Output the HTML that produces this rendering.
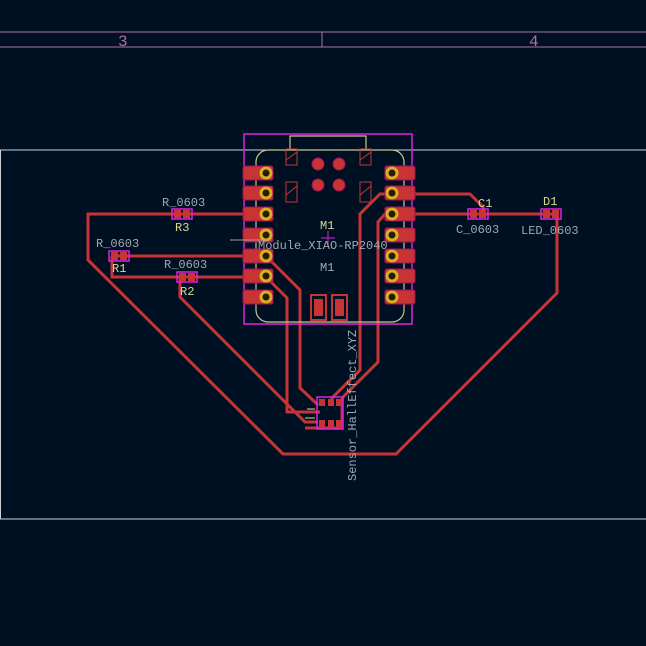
<!DOCTYPE html>
<html><head><meta charset="utf-8"><style>
html,body{margin:0;padding:0;background:#001023;}
svg{display:block;font-family:"Liberation Mono","DejaVu Sans Mono",monospace;}
</style></head><body>
<svg width="646" height="646" viewBox="0 0 646 646" xmlns="http://www.w3.org/2000/svg">
<defs>
<pattern id="g" x="0" y="1" width="52.2" height="52" patternUnits="userSpaceOnUse">
<rect x="0" y="52" width="2" height="1" fill="#5a6470"/>
</pattern>
<g id="pad"><rect x="-23" y="-7" width="30" height="14" rx="2" fill="#c83434" stroke="#a01060" stroke-width="1"/><circle cx="0" cy="0" r="6.5" fill="#d8b020"/><circle cx="0" cy="0" r="3.5" fill="#2a1a08"/></g>
<g id="padr"><rect x="-7" y="-7" width="30" height="14" rx="2" fill="#c83434" stroke="#a01060" stroke-width="1"/><circle cx="0" cy="0" r="6.5" fill="#d8b020"/><circle cx="0" cy="0" r="3.5" fill="#2a1a08"/></g>
<g id="smd"><rect x="-10" y="-5" width="20" height="10" fill="none" stroke="#e020e0" stroke-width="1.5"/><rect x="-8" y="-4" width="7" height="8" fill="#c83434"/><rect x="1" y="-4" width="7" height="8" fill="#c83434"/></g>
</defs>
<rect width="646" height="646" fill="#001023"/>
<rect width="646" height="646" fill="url(#g)"/>
<line x1="0" y1="32" x2="646" y2="32" stroke="#b070a0" stroke-width="1"/>
<line x1="0" y1="47" x2="646" y2="47" stroke="#b070a0" stroke-width="1"/>
<line x1="322" y1="32" x2="322" y2="47" stroke="#b070a0" stroke-width="1"/>
<text x="118" y="46" fill="#b070a0" font-size="16">3</text>
<text x="529" y="46" fill="#b070a0" font-size="16">4</text>
<rect x="0.5" y="150" width="650" height="369" fill="none" stroke="#d0d0d0" stroke-width="1"/>
<g fill="none" stroke="#c83434" stroke-width="3" stroke-linejoin="miter">
<polyline points="245,214 88,214 88,260 283,454 396,454 557,293 557,214"/>
<polyline points="245,256 118,256"/>
<polyline points="245,277 112,277 112,256"/>
<polyline points="180,277 180,297 305,422 318,422"/>
<polyline points="266,256 300,290 300,388 318,405"/>
<polyline points="266,277 287,298 287,412 320,412"/>
<polyline points="396,194 380,194 360,214 360,370 332,398 332,405"/>
<polyline points="396,214 385,214 378,222 378,362 342,398"/>
<polyline points="396,194 470,194 483,207 483,214"/>
<polyline points="396,214 557,214"/>
<polyline points="342,398 342,428 305,428"/>
</g>
<rect x="244" y="134" width="168" height="190" fill="none" stroke="#e020e0" stroke-width="1.5"/>
<path d="M290 150 V136 H366 V150" fill="none" stroke="#c8c890" stroke-width="1.2"/>
<rect x="256" y="150" width="148" height="172" rx="12" fill="none" stroke="#c8c890" stroke-width="1.2"/>
<rect x="286" y="149" width="11" height="16" fill="none" stroke="#c83434"/>
<rect x="360" y="149" width="11" height="16" fill="none" stroke="#c83434"/>
<rect x="286" y="182" width="11" height="20" fill="none" stroke="#c83434"/>
<rect x="360" y="182" width="11" height="20" fill="none" stroke="#c83434"/>
<g stroke="#c83434" stroke-width="1"><line x1="286" y1="160" x2="297" y2="152"/><line x1="360" y1="160" x2="371" y2="152"/><line x1="286" y1="195" x2="297" y2="186"/><line x1="360" y1="195" x2="371" y2="186"/></g>
<g fill="#c83434" stroke="#a01060"><circle cx="318" cy="164" r="6"/><circle cx="339" cy="164" r="6"/><circle cx="318" cy="185" r="6"/><circle cx="339" cy="185" r="6"/></g>
<rect x="311" y="295" width="15" height="25" fill="none" stroke="#c83434" stroke-width="2"/>
<rect x="332" y="295" width="15" height="25" fill="none" stroke="#c83434" stroke-width="2"/>
<rect x="314" y="299" width="9" height="17" fill="#c83434"/>
<rect x="335" y="299" width="9" height="17" fill="#c83434"/>
<g>
<use href="#pad" x="266" y="173"/><use href="#pad" x="266" y="193"/><use href="#pad" x="266" y="214"/><use href="#pad" x="266" y="235"/><use href="#pad" x="266" y="256"/><use href="#pad" x="266" y="276"/><use href="#pad" x="266" y="297"/>
<use href="#padr" x="392" y="173"/><use href="#padr" x="392" y="193"/><use href="#padr" x="392" y="214"/><use href="#padr" x="392" y="235"/><use href="#padr" x="392" y="256"/><use href="#padr" x="392" y="276"/><use href="#padr" x="392" y="297"/>
</g>
<line x1="230" y1="240" x2="270" y2="240" stroke="#a0a0a0" stroke-width="1"/>
<line x1="328" y1="231" x2="328" y2="245" stroke="#e020e0" stroke-width="1"/>
<line x1="321" y1="238" x2="335" y2="238" stroke="#e020e0" stroke-width="1"/>
<text x="320" y="229" fill="#d8d890" font-size="12">M1</text>
<text x="320" y="271" fill="#a0a8b0" font-size="12">M1</text>
<text x="258" y="249" fill="#a0a8b0" font-size="12">Module_XIAO-RP2040</text>
<use href="#smd" x="182" y="214"/>
<use href="#smd" x="119" y="256"/>
<use href="#smd" x="187" y="277"/>
<use href="#smd" x="478" y="214"/>
<use href="#smd" x="551" y="214"/>
<g font-size="12">
<text x="162" y="206" fill="#a0a8b0">R_0603</text><text x="175" y="231" fill="#d8d890">R3</text>
<text x="96" y="247" fill="#a0a8b0">R_0603</text><text x="112" y="272" fill="#d8d890">R1</text>
<text x="164" y="268" fill="#a0a8b0">R_0603</text><text x="180" y="295" fill="#d8d890">R2</text>
<text x="478" y="207" fill="#d8d890">C1</text><text x="456" y="233" fill="#a0a8b0">C_0603</text>
<text x="543" y="205" fill="#d8d890">D1</text><text x="521" y="234" fill="#a0a8b0">LED_0603</text>
</g>
<rect x="317" y="397" width="26" height="32" fill="none" stroke="#e020e0" stroke-width="1.5"/>
<g fill="#c83434"><rect x="319" y="399" width="6" height="7"/><rect x="328" y="399" width="6" height="7"/><rect x="336" y="399" width="6" height="7"/><rect x="319" y="420" width="6" height="7"/><rect x="328" y="420" width="6" height="7"/><rect x="336" y="420" width="6" height="7"/></g>
<line x1="307" y1="409" x2="315" y2="409" stroke="#d8d890"/><line x1="305" y1="418" x2="315" y2="418" stroke="#d8d890"/>
<text transform="translate(356,481) rotate(-90)" fill="#a0a8b0" font-size="12">Sensor_HallEffect_XYZ</text>
</svg>
</body></html>
